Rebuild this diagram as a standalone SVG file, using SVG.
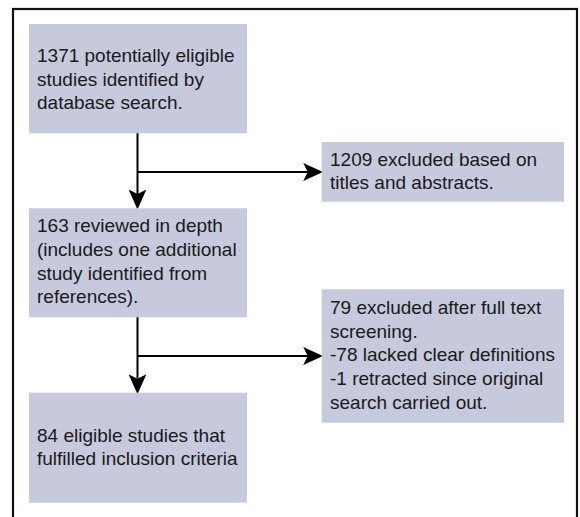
<svg xmlns="http://www.w3.org/2000/svg" width="580" height="517" viewBox="0 0 580 517">
<style>
.box{fill:#c7c9dd;}
.t{font-family:"Liberation Sans",Arial,Helvetica,sans-serif;font-size:19px;fill:#1a1a1a;}
.c{fill:none;stroke:#000;stroke-width:2;}
.frame{fill:none;stroke:#111;stroke-width:2.2;}
</style>
<defs>
<marker id="ah" markerUnits="userSpaceOnUse" markerWidth="20" markerHeight="18" viewBox="0 0 18 16" refX="4" refY="8" orient="auto">
<path d="M0,0 L18,8 L0,16 L4,8 z" fill="#000"/>
</marker>
</defs>
<rect class="frame" x="13" y="9" width="564" height="560"/>
<g id="connectors">
<path class="c" d="M137.5,133 V194" marker-end="url(#ah)"/>
<path class="c" d="M137.5,172 H307.7" marker-end="url(#ah)"/>
<path class="c" d="M137.5,317 V378.7" marker-end="url(#ah)"/>
<path class="c" d="M137.5,356 H307.7" marker-end="url(#ah)"/>
</g>
<g id="n1">
<rect class="box" x="29" y="24" width="218" height="109.3"/>
<text class="t" x="37" y="62">1371 potentially eligible</text>
<text class="t" x="37" y="85.5">studies identified by</text>
<text class="t" x="37" y="109">database search.</text>
</g>
<g id="n2">
<rect class="box" x="321.7" y="142" width="242.3" height="59.7"/>
<text class="t" x="330" y="165.7">1209 excluded based on</text>
<text class="t" x="330" y="189.2">titles and abstracts.</text>
</g>
<g id="n3">
<rect class="box" x="29" y="208.3" width="218" height="109"/>
<text class="t" x="37" y="232">163 reviewed in depth</text>
<text class="t" x="37" y="256">(includes one additional</text>
<text class="t" x="37" y="279.7">study identified from</text>
<text class="t" x="37" y="303.3">references).</text>
</g>
<g id="n4">
<rect class="box" x="321.7" y="289.3" width="242.3" height="133.4"/>
<text class="t" x="330" y="314">79 excluded after full text</text>
<text class="t" x="330" y="337.7">screening.</text>
<text class="t" x="330" y="361.4">-78 lacked clear definitions</text>
<text class="t" x="330" y="385.1">-1 retracted since original</text>
<text class="t" x="330" y="408.8">search carried out.</text>
</g>
<g id="n5">
<rect class="box" x="29" y="392.7" width="218" height="110"/>
<text class="t" x="37" y="441.7">84 eligible studies that</text>
<text class="t" x="37" y="465.2">fulfilled inclusion criteria</text>
</g>
</svg>
